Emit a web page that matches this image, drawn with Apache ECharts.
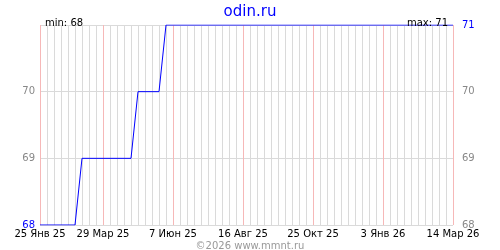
<!DOCTYPE html>
<html><head><meta charset="utf-8">
<script src="https://cdn.jsdelivr.net/npm/echarts@6/dist/echarts.min.js"></script>
<style>html,body{margin:0;padding:0;background:#fff}#c{width:500px;height:250px}</style>
</head><body><div id="c"></div>
<script>
// Weekly values starting 25 Jan 2025
var startDate = '2025-01-25';
var weeklyValues = [68,68,68,68,68,68,69,69,69,69,69,69,69,69,70,70,70,70,
  71,71,71,71,71,71,71,71,71,71,71,71,71,71,71,71,71,71,71,71,71,71,71,71,
  71,71,71,71,71,71,71,71,71,71,71,71,71,71,71,71,71,71];
var xLabels = ['25 Янв 25','29 Мар 25','7 Июн 25','16 Авг 25','25 Окт 25','3 Янв 26','14 Мар 26'];
var xLabelDays = [0,63,133,203,273,343,413];
var yTicks = [68,69,70,71];
var minText = 'min: 68';
var maxText = 'max: 71';
var titleText = 'odin.ru';
var footerText = '©2026 www.mmnt.ru';

var data = weeklyValues.map(function(v,i){return [i*7, v];});
var firstV = weeklyValues[0], lastV = weeklyValues[weeklyValues.length-1];
var yMin = yTicks[0], yMax = yTicks[yTicks.length-1];
var font = 'DejaVu Sans';

var chart = echarts.init(document.getElementById('c'), null, {renderer:'canvas'});
chart.setOption({
  animation:false,
  textStyle:{fontFamily:font},
  title:[
    {text:titleText,left:'center',top:0,textStyle:{color:'#0000ff',fontSize:15,fontWeight:'normal',fontFamily:font}},
    {text:minText,left:40,top:13,textStyle:{color:'#000',fontSize:10,fontWeight:'normal',fontFamily:font}},
    {text:maxText,right:47,top:13,textStyle:{color:'#000',fontSize:10,fontWeight:'normal',fontFamily:font}},
    {text:footerText,left:'center',top:236,textStyle:{color:'#999',fontSize:10,fontWeight:'normal',fontFamily:font}}
  ],
  grid:{left:40,right:47,top:25,bottom:25,containLabel:false},
  xAxis:{type:'value',min:0,max:413,interval:7,
    axisLine:{show:false},axisTick:{show:false},
    splitLine:{show:true,showMinLine:true,showMaxLine:true,lineStyle:{color:'#dadada',width:1}},
    axisLabel:{show:true,showMinLabel:true,showMaxLabel:true,margin:4,color:'#000',fontSize:10,fontFamily:font,
      formatter:function(v){var k=xLabelDays.indexOf(Math.round(v));return k>=0?xLabels[k]:'';}}
  },
  yAxis:[
    {type:'value',min:yMin,max:yMax,interval:1,position:'left',
      axisLine:{show:false},axisTick:{show:false},
      splitLine:{show:true,lineStyle:{color:'#dadada',width:1}},
      axisLabel:{margin:5,fontSize:10,fontFamily:font,
        color:function(v){return v==firstV?'#0000ff':'#888';},
        formatter:function(v){return v==yMax?'':String(v);}}},
    {type:'value',min:yMin,max:yMax,interval:1,position:'right',
      axisLine:{show:false},axisTick:{show:false},splitLine:{show:false},
      axisLabel:{margin:9,fontSize:10,fontFamily:font,
        color:function(v){return v==lastV?'#0000ff':'#888';}}}
  ],
  series:[
    {type:'custom',z:2,silent:true,clip:false,data:xLabelDays.map(function(d){return [d, yMin];}),
      encode:{x:0,y:1},
      renderItem:function(params,api){
        var d=api.value(0);
        var p0=api.coord([d,yMin]), p1=api.coord([d,yMax]);
        var x=Math.round(p0[0])+0.5;
        return {type:'line',shape:{x1:x,y1:p0[1],x2:x,y2:p1[1]},
          style:{stroke:'#f6b8b8',lineWidth:1}};
      }},
    {type:'line',data:data,showSymbol:false,symbol:'none',
      lineStyle:{color:'#0000ff',width:1},z:5}]
});
</script></body></html>
